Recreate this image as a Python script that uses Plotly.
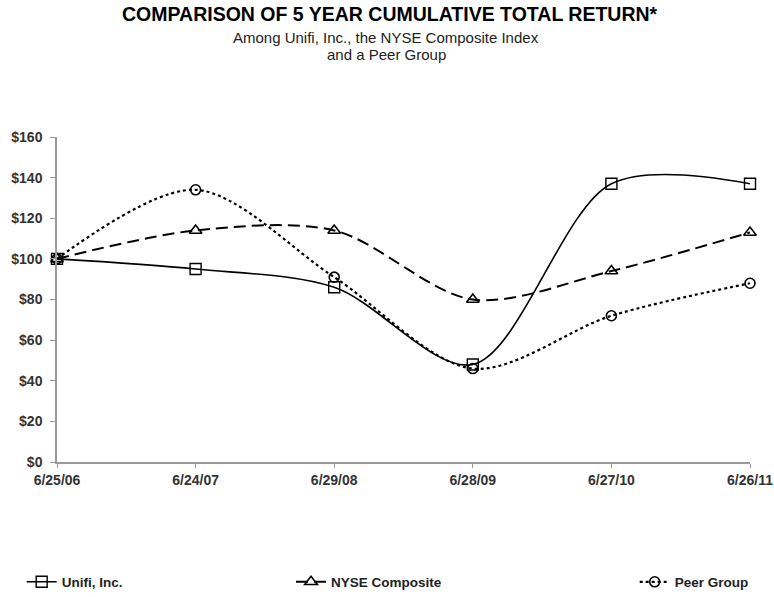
import plotly.graph_objects as go

dates = ["6/25/06", "6/24/07", "6/29/08", "6/28/09", "6/27/10", "6/26/11"]
unifi = [100, 95, 86, 48, 137, 137]
nyse = [100, 114, 114, 80, 94, 113]
peer = [100, 134, 91, 46, 72, 88]
y_ticks = [0, 20, 40, 60, 80, 100, 120, 140, 160]
y_tick_labels = ["$" + str(v) for v in y_ticks]

FONT = "Liberation Sans, Arial, sans-serif"

# plot area geometry (px) used to place page-level texts
L, R, T, B, W, H = 57, 24, 137, 135, 774, 597
PW, PH = W - L - R, H - T - B


def px_x(px):
    return (px - L) / PW


def px_y(py):
    return (H - B - py) / PH


fig = go.Figure()
fig.add_trace(go.Scatter(
    x=dates, y=unifi, name="<b>Unifi, Inc.</b>", mode="lines+markers",
    line=dict(color="black", width=1.6, shape="spline", smoothing=0.9),
    marker=dict(symbol="square-open", size=11, color="black", line=dict(width=1.4)),
    cliponaxis=False, legend="legend"))
fig.add_trace(go.Scatter(
    x=dates, y=nyse, name="<b>NYSE Composite</b>", mode="lines+markers",
    line=dict(color="black", width=2, dash="12px,6px", shape="spline", smoothing=0.9),
    marker=dict(symbol="triangle-up-open", size=11, color="black", line=dict(width=1.6)),
    cliponaxis=False, legend="legend2"))
fig.add_trace(go.Scatter(
    x=dates, y=peer, name="<b>Peer Group</b>", mode="lines+markers",
    line=dict(color="black", width=2.2, dash="dot", shape="spline", smoothing=0.9),
    marker=dict(symbol="circle-open", size=10, color="black", line=dict(width=1.6)),
    cliponaxis=False, legend="legend3"))

leg_common = dict(orientation="h", xref="container", yref="container",
                  yanchor="middle", y=1 - 582 / H, xanchor="left",
                  bgcolor="rgba(0,0,0,0)", itemwidth=30,
                  font=dict(family=FONT, size=13.5, color="#222"))

fig.update_layout(
    width=W, height=H,
    margin=dict(l=L, r=R, t=T, b=B),
    paper_bgcolor="white", plot_bgcolor="white",
    font=dict(family=FONT, color="black"),
    showlegend=True,
    legend=dict(leg_common, x=0.028),
    legend2=dict(leg_common, x=0.376),
    legend3=dict(leg_common, x=0.82),
    annotations=[
        dict(text="<b>COMPARISON OF 5 YEAR CUMULATIVE TOTAL RETURN*</b>",
             xref="paper", yref="paper", x=px_x(390), y=px_y(14), xanchor="center", yanchor="middle",
             showarrow=False, font=dict(family=FONT, size=19.5, color="black")),
        dict(text="Among Unifi, Inc., the NYSE Composite Index",
             xref="paper", yref="paper", x=px_x(386), y=px_y(37), xanchor="center", yanchor="middle",
             showarrow=False, font=dict(family=FONT, size=15, color="#222")),
        dict(text="and a Peer Group",
             xref="paper", yref="paper", x=px_x(386), y=px_y(55), xanchor="center", yanchor="middle",
             showarrow=False, font=dict(family=FONT, size=15, color="#222")),
    ],
)
fig.update_xaxes(type="category", range=[0, 5], showgrid=False, zeroline=False,
                 automargin=False,
                 showline=True, linecolor="#999", linewidth=1.5,
                 ticks="outside", ticklen=4, tickcolor="#999",
                 tickvals=dates, ticktext=["<b>" + d + "</b>" for d in dates],
                 tickfont=dict(family=FONT, size=14, color="#333"))
fig.update_yaxes(range=[0, 160], tickvals=y_ticks, ticktext=["<b>" + t + "</b>" for t in y_tick_labels],
                 showgrid=False, zeroline=False, automargin=False,
                 showline=True, linecolor="#999", linewidth=1.5,
                 ticks="outside", ticklen=5, tickcolor="#999", ticklabelstandoff=5,
                 tickfont=dict(family=FONT, size=14, color="#333"))

fig.write_html("out.html")
